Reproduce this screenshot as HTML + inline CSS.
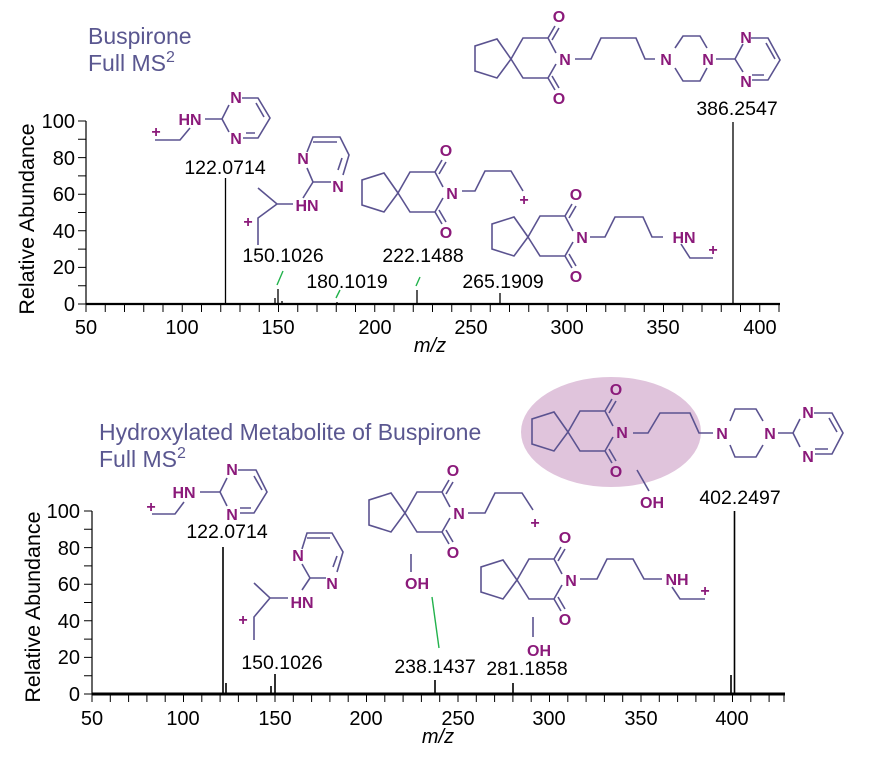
<!DOCTYPE html>
<html><head><meta charset="utf-8"><style>
html,body{margin:0;padding:0;background:#fff;}
svg{display:block;font-family:"Liberation Sans",sans-serif;}
.ax{stroke:#000;fill:none;}
.ln{stroke:#5b5390;stroke-width:1.6;fill:none;}
.at{fill:#8b1a7a;font-weight:bold;font-size:16px;text-anchor:middle;}
.lab{font-size:19.5px;fill:#000;text-anchor:middle;}
.tk{font-size:20px;fill:#000;}
.yl{font-size:21.5px;fill:#000;}
.ttl{font-size:23px;fill:#5a5790;}
.g{stroke:#22b24c;stroke-width:1.4;}
</style></head><body>
<svg width="879" height="766" viewBox="0 0 879 766">
<!-- ===== TOP ===== -->
<text class="ttl" x="88" y="44">Buspirone</text>
<text class="ttl" x="88" y="71">Full MS<tspan font-size="16" dy="-9">2</tspan></text>
<text class="yl" transform="translate(34,219) rotate(-90)" text-anchor="middle">Relative Abundance</text>
<path class="ax" stroke-width="1.2" d="M86,121V304"/>
<path class="ax" stroke-width="2.2" d="M86,304H780"/>
<path class="ax" stroke-width="1" d="M78,304H86M78,285.7H86M78,267.4H86M78,249.1H86M78,230.8H86M78,212.5H86M78,194.2H86M78,175.9H86M78,157.6H86M78,139.3H86M78,121H86"/>
<path class="ax" stroke-width="1" d="M86,304v8M105.25,304v8M124.5,304v8M143.75,304v8M163,304v8M182.25,304v8M201.5,304v8M220.75,304v8M240,304v8M259.25,304v8M278.5,304v8M297.75,304v8M317,304v8M336.25,304v8M355.5,304v8M374.75,304v8M394,304v8M413.25,304v8M432.5,304v8M451.75,304v8M471,304v8M490.25,304v8M509.5,304v8M528.75,304v8M548,304v8M567.25,304v8M586.5,304v8M605.75,304v8M625,304v8M644.25,304v8M663.5,304v8M682.75,304v8M702,304v8M721.25,304v8M740.5,304v8M759.75,304v8M779,304v8"/>
<g class="tk" text-anchor="end">
<text x="75" y="311">0</text><text x="75" y="274">20</text><text x="75" y="238">40</text><text x="75" y="201">60</text><text x="75" y="165">80</text><text x="75" y="128">100</text></g>
<g class="tk" text-anchor="middle">
<text x="86" y="334">50</text><text x="182" y="334">100</text><text x="278" y="334">150</text><text x="375" y="334">200</text><text x="471" y="334">250</text><text x="567" y="334">300</text><text x="663" y="334">350</text><text x="760" y="334">400</text></g>
<text class="tk" x="430" y="352" font-style="italic" text-anchor="middle">m/z</text>
<path class="ax" stroke-width="1.3" d="M225.5,304V178M278,304V289M275,304V298M282,304V301M337,304V302M417,304V290M500,304V293M733,304V122"/>
<path class="g" d="M277,285L283,271M336,298L340,290M416,286L420,277"/>
<text class="lab" x="225" y="174">122.0714</text>
<text class="lab" x="283" y="262">150.1026</text>
<text class="lab" x="347" y="288">180.1019</text>
<text class="lab" x="423" y="262">222.1488</text>
<text class="lab" x="503" y="288">265.1909</text>
<text class="lab" x="737" y="115">386.2547</text>
<!-- top 122 -->
<text class="at" x="156" y="137">+</text>
<path class="ln" d="M155,140H180L190,128"/>
<text class="at" x="190" y="125">HN</text>
<path class="ln" d="M205,119H222L229,105M222,119L229,132M242,98H258L270,118L258,138H243M256,103L264,117M246,133H255"/>
<text class="at" x="236" y="103">N</text><text class="at" x="236" y="144">N</text>
<!-- top 150 -->
<text class="at" x="303" y="164">N</text><text class="at" x="338" y="192">N</text><text class="at" x="307" y="211">HN</text>
<path class="ln" d="M307,152L313,137H340L349,155L343,175M313,142H337M342,158L338,170M331,182H313L307,168M313,182L303,198M293,204H277L258,188M277,204L258,218V245"/>
<text class="at" x="248" y="227">+</text>
<g transform="translate(511,59)">
<path class="ln" d="M0,0L-14,-20L-36,-13L-36,12L-14,19Z M0,0L12,-21H37L45,-6M0,0L12,19H37L45,5M37,-21L44,-33M41,-19L48,-31M37,19L44,31M41,17L48,29"/>
<text class="at" x="48" y="-37">O</text><text class="at" x="48" y="45">O</text><text class="at" x="54" y="6">N</text></g>
<path class="ln" d="M575,59H591L601,38H636L645,59H655M675,48L683,36H700L707,48M707,68L700,81H683L675,68M716,59H735L743,44M735,59L743,72M751,38H768L780,60L768,80H752M766,43L775,59M752,75H764"/>
<text class="at" x="666" y="65">N</text><text class="at" x="708" y="65">N</text><text class="at" x="746" y="43">N</text><text class="at" x="746" y="87">N</text>
<g transform="translate(398,193)">
<path class="ln" d="M0,0L-14,-20L-36,-13L-36,12L-14,19Z M0,0L12,-21H37L45,-6M0,0L12,19H37L45,5M37,-21L44,-33M41,-19L48,-31M37,19L44,31M41,17L48,29"/>
<text class="at" x="48" y="-37">O</text><text class="at" x="48" y="45">O</text><text class="at" x="54" y="6">N</text></g>
<path class="ln" d="M462,191H475L485,171H511L523,191"/>
<text class="at" x="524" y="205">+</text>
<g transform="translate(528,237)">
<path class="ln" d="M0,0L-14,-20L-36,-13L-36,12L-14,19Z M0,0L12,-21H37L45,-6M0,0L12,19H37L45,5M37,-21L44,-33M41,-19L48,-31M37,19L44,31M41,17L48,29"/>
<text class="at" x="48" y="-37">O</text><text class="at" x="48" y="45">O</text><text class="at" x="54" y="6">N</text></g>
<path class="ln" d="M590,237H605L615,217H643L652,237H663M681,244L690,258H713"/>
<text class="at" x="684" y="243">HN</text><text class="at" x="713" y="255">+</text>

<!-- ===== BOTTOM ===== -->
<ellipse cx="611" cy="432" rx="90" ry="55" fill="#e0c4dc"/>
<text class="ttl" x="99" y="440">Hydroxylated Metabolite of Buspirone</text>
<text class="ttl" x="99" y="467">Full MS<tspan font-size="16" dy="-9">2</tspan></text>
<text class="yl" transform="translate(40,607) rotate(-90)" text-anchor="middle">Relative Abundance</text>
<path class="ax" stroke-width="1.2" d="M92,511V694"/>
<path class="ax" stroke-width="3" d="M92,694H785"/>
<path class="ax" stroke-width="1" d="M84,694H92M84,675.7H92M84,657.4H92M84,639.1H92M84,620.8H92M84,602.5H92M84,584.2H92M84,565.9H92M84,547.6H92M84,529.3H92M84,511H92"/>
<path class="ax" stroke-width="1" d="M92,694v8M110.3,694v8M128.6,694v8M146.9,694v8M165.2,694v8M183.5,694v8M201.8,694v8M220.1,694v8M238.4,694v8M256.7,694v8M275,694v8M293.3,694v8M311.6,694v8M329.9,694v8M348.2,694v8M366.5,694v8M384.8,694v8M403.1,694v8M421.4,694v8M439.7,694v8M458,694v8M476.3,694v8M494.6,694v8M512.9,694v8M531.2,694v8M549.5,694v8M567.8,694v8M586.1,694v8M604.4,694v8M622.7,694v8M641,694v8M659.3,694v8M677.6,694v8M695.9,694v8M714.2,694v8M732.5,694v8M750.8,694v8M769.1,694v8M784,694v8"/>
<g class="tk" text-anchor="end">
<text x="80" y="701">0</text><text x="80" y="664">20</text><text x="80" y="628">40</text><text x="80" y="591">60</text><text x="80" y="555">80</text><text x="80" y="518">100</text></g>
<g class="tk" text-anchor="middle">
<text x="92" y="725">50</text><text x="183" y="725">100</text><text x="275" y="725">150</text><text x="366" y="725">200</text><text x="458" y="725">250</text><text x="549" y="725">300</text><text x="641" y="725">350</text><text x="732" y="725">400</text></g>
<text class="tk" x="438" y="743" font-style="italic" text-anchor="middle">m/z</text>
<path class="ax" stroke-width="1.6" d="M223,694V547M226,694V683M275,694V674M271,694V686M435,694V680M513,694V683M734.5,694V511M731,694V675"/>
<text class="lab" x="227" y="538">122.0714</text>
<text class="lab" x="282" y="669">150.1026</text>
<text class="lab" x="435" y="673">238.1437</text>
<text class="lab" x="527" y="675">281.1858</text>
<text class="lab" x="740" y="504">402.2497</text>
<path class="g" d="M432,597L439,648"/>
<!-- bottom 122 -->
<text class="at" x="151" y="512">+</text>
<path class="ln" d="M152,514H175L184,502M200,492H220L227,478M220,492L227,506M238,470H256L267,492L254,513H240M254,476L262,490M240,508H251"/>
<text class="at" x="184" y="498">HN</text>
<text class="at" x="232" y="475">N</text><text class="at" x="232" y="520">N</text>
<!-- bottom 150 -->
<text class="at" x="298" y="561">N</text><text class="at" x="332" y="589">N</text><text class="at" x="302" y="608">HN</text>
<path class="ln" d="M302,549L307,533H332L343,552L337,572M307,538H330M337,556L333,567M326,578H310L302,564M310,578L302,590M288,598H270L254,583M270,598L254,617V640"/>
<text class="at" x="243" y="625">+</text>
<!-- main bottom -->
<g transform="translate(568,432)">
<path class="ln" d="M0,0L-14,-20L-36,-13L-36,12L-14,19Z M0,0L12,-21H37L45,-6M0,0L12,19H37L45,5M37,-21L44,-33M41,-19L48,-31M37,19L44,31M41,17L48,29"/>
<text class="at" x="48" y="-37">O</text><text class="at" x="48" y="45">O</text><text class="at" x="54" y="6">N</text></g>
<path class="ln" d="M633,433H648L660,413H690L699,433H713M730,421L735,409H756L763,421M763,445L756,457H735L730,445M778,433H793L800,419M793,433L800,447M814,413H832L843,433L832,454H815M829,418L837,432M815,449H828M637,470L649,491"/>
<text class="at" x="722" y="439">N</text><text class="at" x="770" y="439">N</text><text class="at" x="808" y="418">N</text><text class="at" x="808" y="462">N</text>
<text class="at" x="652" y="508">OH</text>
<!-- bottom 238 -->
<g transform="translate(405,513)">
<path class="ln" d="M0,0L-14,-20L-36,-13L-36,12L-14,19Z M0,0L12,-21H37L45,-6M0,0L12,19H37L45,5M37,-21L44,-33M41,-19L48,-31M37,19L44,31M41,17L48,29"/>
<text class="at" x="48" y="-37">O</text><text class="at" x="48" y="45">O</text><text class="at" x="54" y="6">N</text></g>
<path class="ln" d="M468,513H485L495,493H522L533,510M411,554V572"/>
<text class="at" x="535" y="528">+</text>
<text class="at" x="417" y="589">OH</text>
<!-- bottom 281 -->
<g transform="translate(517,580)">
<path class="ln" d="M0,0L-14,-20L-36,-13L-36,12L-14,19Z M0,0L12,-21H37L45,-6M0,0L12,19H37L45,5M37,-21L44,-33M41,-19L48,-31M37,19L44,31M41,17L48,29"/>
<text class="at" x="48" y="-37">O</text><text class="at" x="48" y="45">O</text><text class="at" x="54" y="6">N</text></g>
<path class="ln" d="M580,579H597L607,559H633L644,579H662M672,587L680,599H705M533,617V637"/>
<text class="at" x="677" y="585">NH</text><text class="at" x="705" y="596">+</text>
<text class="at" x="539" y="656">OH</text>
</svg>
</body></html>
